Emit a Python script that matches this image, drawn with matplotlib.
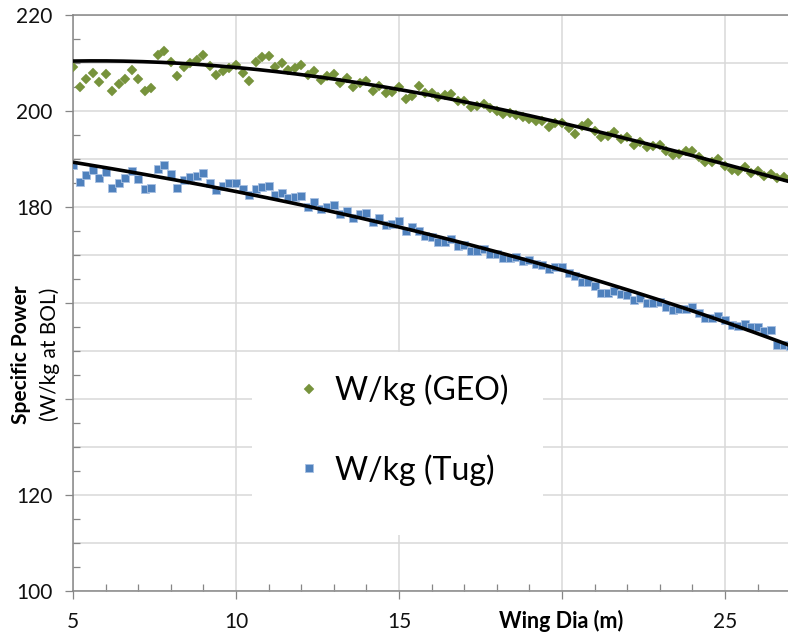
import numpy as np
import matplotlib
matplotlib.use("Agg")
import matplotlib.pyplot as plt
from matplotlib.ticker import MultipleLocator, FixedLocator, FixedFormatter
from matplotlib.patches import Rectangle

plt.rcParams['font.family'] = ['Lato', 'DejaVu Sans']

# ---- data ----
wing_dia = [5.0, 5.2, 5.4, 5.6, 5.8, 6.0, 6.2, 6.4, 6.6, 6.8,
            7.0, 7.2, 7.4, 7.6, 7.8, 8.0, 8.2, 8.4, 8.6, 8.8,
            9.0, 9.2, 9.4, 9.6, 9.8, 10.0, 10.2, 10.4, 10.6, 10.8,
            11.0, 11.2, 11.4, 11.6, 11.8, 12.0, 12.2, 12.4, 12.6, 12.8,
            13.0, 13.2, 13.4, 13.6, 13.8, 14.0, 14.2, 14.4, 14.6, 14.8,
            15.0, 15.2, 15.4, 15.6, 15.8, 16.0, 16.2, 16.4, 16.6, 16.8,
            17.0, 17.2, 17.4, 17.6, 17.8, 18.0, 18.2, 18.4, 18.6, 18.8,
            19.0, 19.2, 19.4, 19.6, 19.8, 20.0, 20.2, 20.4, 20.6, 20.8,
            21.0, 21.2, 21.4, 21.6, 21.8, 22.0, 22.2, 22.4, 22.6, 22.8,
            23.0, 23.2, 23.4, 23.6, 23.8, 24.0, 24.2, 24.4, 24.6, 24.8,
            25.0, 25.2, 25.4, 25.6, 25.8, 26.0, 26.2, 26.4, 26.6, 26.8,
            27.0]

wkg_geo = [209.1, 205.1, 206.7, 207.9, 206.1, 207.7, 204.2, 205.6, 206.7, 208.5,
           206.7, 204.2, 204.8, 211.7, 212.6, 210.3, 207.2, 209.1, 210.1, 210.6,
           211.7, 209.3, 207.4, 208.3, 209.0, 209.5, 207.9, 206.2, 210.2, 211.2,
           211.4, 209.1, 210.0, 208.5, 209.0, 209.6, 207.6, 208.3, 206.5, 207.3,
           207.7, 205.9, 206.8, 204.9, 205.8, 206.3, 204.1, 205.2, 203.7, 203.9,
           204.9, 202.6, 203.2, 205.2, 203.8, 203.8, 203.0, 203.3, 203.5, 202.1,
           202.1, 200.9, 201.1, 201.5, 200.6, 200.1, 199.3, 199.6, 199.2, 198.8,
           198.3, 198.0, 198.0, 196.6, 197.5, 197.5, 196.5, 195.3, 196.9, 197.6,
           195.8, 194.5, 194.8, 195.7, 194.1, 194.5, 192.9, 193.6, 192.4, 192.7,
           192.9, 191.7, 190.8, 191.0, 191.7, 191.7, 190.4, 189.3, 189.3, 190.0,
           188.5, 187.7, 187.6, 188.4, 187.0, 187.6, 186.5, 186.9, 186.0, 186.3,
           186.1]

wkg_tug = [188.7, 185.3, 186.7, 187.7, 186.0, 187.2, 184.0, 185.1, 186.0, 187.6,
           185.8, 183.7, 184.0, 187.9, 188.7, 186.9, 184.0, 185.6, 186.3, 186.5,
           187.0, 184.9, 183.5, 184.4, 184.9, 184.9, 183.7, 182.4, 183.7, 184.2,
           184.4, 182.4, 182.9, 181.8, 182.0, 182.3, 180.1, 181.0, 179.6, 180.1,
           180.4, 178.5, 179.2, 177.8, 178.5, 178.7, 176.8, 177.7, 176.3, 176.5,
           177.0, 174.9, 175.8, 175.1, 174.0, 173.7, 172.7, 172.7, 173.3, 171.9,
           172.1, 170.8, 170.8, 171.3, 170.2, 170.2, 169.4, 169.4, 169.5, 168.7,
           169.0, 168.1, 167.9, 167.1, 167.6, 167.6, 166.2, 165.6, 164.3, 164.4,
           163.5, 162.1, 162.1, 162.6, 161.8, 161.7, 160.6, 161.0, 160.1, 160.1,
           160.3, 159.1, 158.5, 158.7, 158.7, 159.2, 157.9, 156.8, 156.8, 157.3,
           156.5, 155.4, 155.2, 155.6, 155.1, 154.9, 154.2, 154.4, 151.3, 151.3,
           151.0]

# trend lines (polynomial trendlines)
trend_x = [5, 10, 15, 20, 25, 27]
trend_geo = [210.4, 209.1, 204.4, 197.6, 188.8, 185.3]
trend_tug = [189.4, 183.0, 176.0, 167.0, 155.6, 151.4]

series_labels = ['W/kg (GEO)', 'W/kg (Tug)']
x_ticks = [5, 10, 15, 20, 25]
x_ticklabels = ['5', '10', '15', '', '25']        # "20" hidden by axis title
y_ticks = [100, 120, 140, 160, 180, 200, 220]
y_ticklabels = ['100', '120', '', '', '180', '200', '220']  # hidden by axis title

GREEN = '#77933C'
BLUE = '#4F81BD'
GRID = '#D9D9D9'
AXC = '#868686'

W, H = 788, 636
fig = plt.figure(figsize=(W / 100, H / 100), dpi=100)
ax_l, ax_r, ax_t, ax_b = 73, 788, 15, 591
ax = fig.add_axes([ax_l / W, (H - ax_b) / H, (ax_r - ax_l) / W, (ax_b - ax_t) / H])
ax.set_xlim(5, 5 + (ax_r - ax_l) / 32.6)
ax.set_ylim(100, 220)
ax.set_axisbelow(True)

x = np.array(wing_dia)
g = np.array(wkg_geo)
t = np.array(wkg_tug)

ax.plot(x, g, linestyle='none', marker='D', markersize=5.0, color=GREEN,
        markeredgecolor=GREEN, markeredgewidth=0.3, label=series_labels[0], zorder=3)
ax.plot(x, t, linestyle='none', marker='s', markersize=6.4, color=BLUE,
        markeredgecolor='#A9C1E2', markeredgewidth=0.6, label=series_labels[1], zorder=3)

xf = np.linspace(5, 27, 300)
for ty in (trend_geo, trend_tug):
    c = np.polyfit(trend_x, ty, 3)
    ax.plot(xf, np.polyval(c, xf), color='black', lw=2.6, zorder=4,
            solid_capstyle='butt')

# axes styling
ax.xaxis.set_major_locator(FixedLocator(x_ticks))
ax.xaxis.set_major_formatter(FixedFormatter(x_ticklabels))
ax.xaxis.set_minor_locator(MultipleLocator(1))
ax.yaxis.set_major_locator(FixedLocator(y_ticks))
ax.yaxis.set_major_formatter(FixedFormatter(y_ticklabels))
ax.yaxis.set_minor_locator(MultipleLocator(5))
ax.grid(which='major', color=GRID, lw=1.1)
for yv in range(110, 220, 20):
    ax.axhline(yv, color=GRID, lw=1.1, zorder=0.5)

ax.tick_params(axis='both', which='major', direction='out', length=6, width=0.9,
               color=AXC, labelsize=15, labelcolor='#111111')
ax.tick_params(axis='x', which='major', pad=9)
ax.tick_params(axis='y', which='major', pad=9)
ax.tick_params(axis='both', which='minor', direction='in', length=5, width=0.9, color=AXC)

for s in ('left', 'bottom', 'top'):
    ax.spines[s].set_color(AXC)
    ax.spines[s].set_linewidth(1.1)
ax.spines['right'].set_visible(False)

# legend area (white box over the gridlines)
def ax_frac(px, py):
    return (px - ax_l) / (ax_r - ax_l), (ax_b - py) / (ax_b - ax_t)

bx0, by0 = ax_frac(252, 535)
bx1, by1 = ax_frac(543, 352)
ax.add_patch(Rectangle((bx0, by0), bx1 - bx0, by1 - by0, transform=ax.transAxes,
                       facecolor='white', edgecolor='none', zorder=1.5))
lx, ly = ax_frac(296, 430)
leg = ax.legend(loc='center left', bbox_to_anchor=(lx, ly), frameon=False,
                fontsize=23, handlelength=0.8, handletextpad=0.42,
                labelspacing=1.5, borderpad=0, borderaxespad=0, markerscale=0.95)

# axis titles
fig.text(21 / W, 1 - 355 / H, 'Specific Power', rotation=90, ha='center', va='center',
         fontsize=15, fontweight='bold', color='black')
fig.text(50 / W, 1 - 354 / H, '(W/kg at BOL)', rotation=90, ha='center', va='center',
         fontsize=15, color='black')
fig.text(561 / W, 1 - 621 / H, 'Wing Dia (m)', ha='center', va='center',
         fontsize=15.5, fontweight='bold', color='black')

fig.savefig('out.png', dpi=100, facecolor='white')
